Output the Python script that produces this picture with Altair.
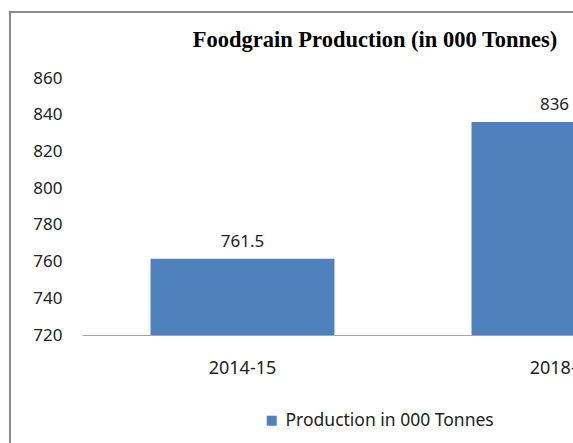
import altair as alt
import pandas as pd

# Foodgrain production by period (thousand tonnes)
periods = ["2014-15", "2018-19"]
production = [761.5, 836]
series_name = "Production in 000 Tonnes"
chart_title = "Foodgrain Production (in 000 Tonnes)"
y_ticks = [720, 740, 760, 780, 800, 820, 840, 860]

df = pd.DataFrame({"period": periods, "production": production, "series": series_name})

BLUE = "#4F81BD"
FONT = "Noto Sans"
INK = "#222222"

x_enc = alt.X(
    "period:N",
    sort=periods,
    scale=alt.Scale(range=[0, 642], paddingInner=0.427, paddingOuter=0.2135),
    axis=alt.Axis(
        title=None,
        labelAngle=0,
        ticks=False,
        domain=True,
        domainColor="#a6a6a6",
        domainWidth=1,
        labelPadding=24,
        labelFont=FONT,
        labelFontSize=18,
        labelColor=INK,
        labelOverlap=False,
    ),
)
y_enc = alt.Y(
    "production:Q",
    scale=alt.Scale(domain=[y_ticks[0], y_ticks[-1]], nice=False, zero=False),
    axis=alt.Axis(
        title=None,
        values=y_ticks,
        grid=False,
        domain=False,
        ticks=False,
        labelPadding=20,
        labelFont=FONT,
        labelFontSize=17,
        labelColor=INK,
        labelOverlap=False,
        labelFlush=False,
    ),
)

bars = alt.Chart(df).mark_bar(color=BLUE, clip=True).encode(
    x=x_enc,
    y=y_enc,
    color=alt.Color(
        "series:N",
        scale=alt.Scale(range=[BLUE]),
        legend=alt.Legend(
            title=None,
            orient="none",
            legendX=181,
            legendY=334,
            symbolType="square",
            symbolSize=100,
            symbolFillColor=BLUE,
            symbolOpacity=1,
            symbolStrokeWidth=0,
            labelFont=FONT,
            labelFontSize=17.5,
            labelColor=INK,
            labelOffset=5,
            labelLimit=400,
            padding=0,
        ),
    ),
)


def value_labels(dx):
    return alt.Chart(df).mark_text(
        font=FONT, fontSize=17, color=INK, baseline="alphabetic", dy=-12, dx=dx
    ).encode(
        x=x_enc,
        y=y_enc,
        text=alt.Text("production:Q", format="~g"),
    )


# value labels above the bars; the last one is nudged inward to stay on the page
labels_first = value_labels(0).transform_filter(alt.datum.period == periods[0])
labels_last = value_labels(-9).transform_filter(alt.datum.period == periods[-1])

one_row = pd.DataFrame({"title": [chart_title]})

# chart title, placed above the plot area
title_text = alt.Chart(one_row).mark_text(
    font="Liberation Serif",
    fontSize=22.5,
    fontWeight="bold",
    color="#000000",
    align="center",
    baseline="alphabetic",
).encode(x=alt.value(293), y=alt.value(-31), text="title:N")

# chart-area frame (top and left edges)
frame_top = alt.Chart(one_row).mark_rule(color="#8c8c8c", strokeWidth=2).encode(
    x=alt.value(-73), x2=alt.value(520), y=alt.value(-66)
)
frame_left = alt.Chart(one_row).mark_rule(color="#8c8c8c", strokeWidth=2).encode(
    x=alt.value(-72), y=alt.value(-66), y2=alt.value(380)
)

chart = (
    alt.layer(frame_top, frame_left, title_text, bars, labels_first, labels_last)
    .properties(
        width=491,
        height=257,
        background="white",
        autosize=alt.AutoSizeParams(type="none"),
        padding={"left": 82, "top": 78, "right": 0, "bottom": 108},
    )
    .configure_view(stroke=None)
)

chart.save("out.html", embed_options={"renderer": "svg", "actions": False})
